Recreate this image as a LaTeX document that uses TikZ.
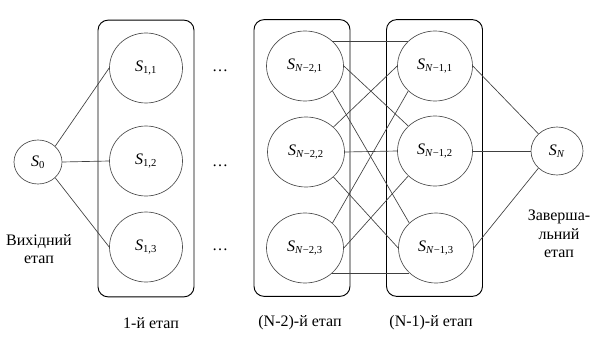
\documentclass[tikz,border=0pt]{standalone}
\usepackage{fontspec}
\setmainfont{Liberation Serif}
\usetikzlibrary{shapes.geometric}
\newcommand{\sname}[1]{\textit{S}\textsubscript{#1}}

\begin{document}
\begin{tikzpicture}[
x=0.75pt,y=-0.75pt,
font=\fontsize{12}{14}\selectfont,
stagebox/.style={rectangle,draw,line width=0.7pt,rounded corners=7.5pt,minimum width=72pt,minimum height=207.5pt},
st/.style={ellipse,draw=black!70,line width=0.5pt,inner sep=0pt,minimum height=52.5pt},
link/.style={draw=black!75,line width=0.5pt},
lbl/.style={align=center,inner sep=1pt}
]
\useasboundingbox (0,0) rectangle (598,342);

% stage frames
\node[stagebox] (st1) at (146,158.5) {};
\node[stagebox] (stA) at (302,158) {};
\node[stagebox] (stB) at (434.5,158) {};

% states
\node[st,minimum width=36pt,minimum height=33pt] (s0) at (38,162) {\sname{0}};
\node[st,minimum width=54.75pt] (s11) at (146,68) {\sname{1,1}};
\node[st,minimum width=54.75pt] (s12) at (146,161) {\sname{1,2}};
\node[st,minimum width=54.75pt] (s13) at (146,247) {\sname{1,3}};
\node[st,minimum width=57.75pt] (a1) at (305,66) {\sname{\textit{N}−2,1}};
\node[st,minimum width=57.75pt] (a2) at (306,152) {\sname{\textit{N}−2,2}};
\node[st,minimum width=57.75pt] (a3) at (305,248) {\sname{\textit{N}−2,3}};
\node[st,minimum width=56.25pt] (b1) at (435,66) {\sname{\textit{N}−1,1}};
\node[st,minimum width=56.25pt] (b2) at (435,151) {\sname{\textit{N}−1,2}};
\node[st,minimum width=56.25pt] (b3) at (436,248) {\sname{\textit{N}−1,3}};
\node[st,minimum width=39pt,minimum height=36pt] (sn) at (557,151) {\sname{\textit{N}}};

% dots between stages
\node (d1) at (220,71) {…};
\node (d2) at (220,166) {…};
\node (d3) at (220,250) {…};

% labels
\node[lbl] (l0) at (39,249) {Вихідний\\етап};
\node[lbl] (l1) at (151,323) {1-й етап};
\node[lbl] (lA) at (300,323) {(N-2)-й етап};
\node[lbl] (lB) at (431,323) {(N-1)-й етап};
\node[lbl] (ln) at (559,234) {Заверша-\\льний\\етап};

% first transitions
\draw[link] (s0.north east) -- (s11.west);
\draw[link] (s0.east) -- (s12.west);
\draw[link] (s0.south east) -- (s13.west);

% N-2 -> N-1
\draw[link] (a1.north east) -- (b1.north west);
\draw[link] (a1.east) -- (b2.north west);
\draw[link] (a1.south east) -- (b3.north west);
\draw[link] (a2.north east) -- (b1.west);
\draw[link] (a2.east) -- (b2.west);
\draw[link] (a2.south east) -- (b3.west);
\draw[link] (a3.north east) -- (b1.south west);
\draw[link] (a3.east) -- (b2.south west);
\draw[link] (a3.south east) -- (b3.south west);

% final transitions
\draw[link] (b1.east) -- (sn.north west);
\draw[link] (b2.east) -- (sn.west);
\draw[link] (b3.east) -- (sn.south west);
\end{tikzpicture}
\end{document}
